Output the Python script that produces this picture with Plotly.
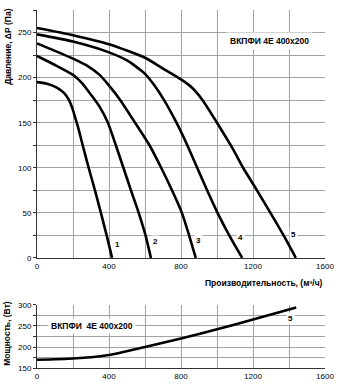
import plotly.graph_objects as go

# ---- data: pressure curves (Q m3/h, dP Pa) ----
Q1 = [0, 60, 110, 150, 178, 198, 213, 228, 250, 287, 322, 355, 387, 417]
P1 = [195, 193, 189, 183, 175, 165, 155, 145, 128, 100, 75, 50, 25, 0]

Q2 = [0, 100, 200, 250, 300, 350, 394, 438, 480, 522, 565, 603, 633]
P2 = [224, 214, 203, 194, 181, 167, 150, 125, 100, 75, 50, 25, 0]

Q3 = [0, 120, 200, 280, 348, 405, 463, 545, 625, 690, 750, 805, 845, 882]
P3 = [238, 228, 221, 213, 203, 190, 175, 150, 125, 100, 75, 50, 25, 0]

Q4 = [0, 200, 400, 500, 596, 650, 706, 775, 835, 890, 945, 1003, 1068, 1140]
P4 = [248, 240, 228, 219, 205, 192, 175, 150, 125, 100, 75, 50, 25, 0]

Q5 = [0, 200, 400, 600, 700, 800, 860, 920, 1000, 1085, 1145, 1222, 1297, 1370, 1438]
P5 = [255, 247, 237, 222, 210, 198, 189, 175, 150, 122, 100, 75, 50, 25, 0]

# ---- power curve ----
QN = [0, 200, 400, 600, 800, 1000, 1200, 1440]
N = [169.5, 172.5, 181, 200, 220, 242, 265.6, 294]

curve_labels = ["1", "2", "3", "4", "5"]
label_x = [449, 657, 896, 1133, 1427]
label_y = [15, 18, 19, 23, 26]

x_ticks = [0, 200, 400, 600, 800, 1000, 1200, 1400, 1600]
x_text = ["0", "", "400", "", "800", "", "1200", "", "1600"]
p_ticks = [0, 25, 50, 75, 100, 125, 150, 175, 200, 225, 250, 275]
p_text = ["0", "", "50", "", "100", "", "150", "", "200", "", "250", ""]
n_ticks = [150, 175, 200, 225, 250, 275, 300]
n_text = ["150", "", "200", "", "250", "", "300"]

title_top = "ВКПФИ 4Е 400х200"
title_bottom = "ВКПФИ  4Е 400х200"

FONT = "Liberation Sans, Arial, sans-serif"
GRID = "#a3a3a3"

fig = go.Figure()
for q, p in [(Q1, P1), (Q2, P2), (Q3, P3), (Q4, P4), (Q5, P5)]:
    fig.add_trace(go.Scatter(x=q, y=p, mode="lines", line=dict(color="black", width=2.6, shape="spline", smoothing=0.6),
                             xaxis="x", yaxis="y", showlegend=False, hoverinfo="skip"))
fig.add_trace(go.Scatter(x=QN, y=N, mode="lines", line=dict(color="black", width=2.6, shape="spline", smoothing=0.6),
                         xaxis="x2", yaxis="y2", showlegend=False, hoverinfo="skip"))

axis_common = dict(showgrid=True, gridcolor=GRID, gridwidth=1, zeroline=False,
                   showline=True, linecolor="#333", linewidth=1,
                   tickfont=dict(family=FONT, size=8, color="black"), tickmode="array")

fig.update_layout(
    width=340, height=387,
    margin=dict(l=37, r=13, t=6, b=19),
    paper_bgcolor="white", plot_bgcolor="white",
    xaxis=dict(domain=[0, 1], range=[0, 1600], tickvals=x_ticks, ticktext=x_text, anchor="y",
               ticks="", **axis_common),
    yaxis=dict(domain=[0.3075, 1], range=[0, 275], tickvals=p_ticks, ticktext=p_text, anchor="x",
               ticks="outside", ticklen=3, tickcolor="#333", **axis_common),
    xaxis2=dict(domain=[0, 1], range=[0, 1600], tickvals=x_ticks, ticktext=x_text, anchor="y2",
                ticks="", **axis_common),
    yaxis2=dict(domain=[0, 0.176], range=[150, 300], tickvals=n_ticks, ticktext=n_text, anchor="x2",
                ticks="outside", ticklen=3, tickcolor="#333", **axis_common),
)

ann = []
for t, lx, ly in zip(curve_labels, label_x, label_y):
    ann.append(dict(x=lx, y=ly, xref="x", yref="y", text="<b>%s</b>" % t, showarrow=False,
                    font=dict(family=FONT, size=8, color="black"), bgcolor="white", borderpad=1))
ann.append(dict(x=1294, y=241, xref="x", yref="y", text="<b>%s</b>" % title_top, showarrow=False,
                font=dict(family=FONT, size=8.5, color="black"), bgcolor="white", borderpad=3))
ann.append(dict(x=1410, y=267, xref="x2", yref="y2", text="<b>5</b>", showarrow=False,
                font=dict(family=FONT, size=8, color="black"), bgcolor="white", borderpad=1))
ann.append(dict(x=306, y=250, xref="x2", yref="y2", text="<b>%s</b>" % title_bottom, showarrow=False,
                font=dict(family=FONT, size=8.5, color="black"), bgcolor="white", borderpad=2))
# axis titles
ann.append(dict(x=-0.103, y=0.898, xref="paper", yref="paper", xanchor="center", yanchor="middle",
                text="<b>Давление, ΔР (Па)</b>", textangle=-90,
                showarrow=False, font=dict(family=FONT, size=8.5, color="black")))
ann.append(dict(x=1, y=0.238, xref="paper", yref="paper", xanchor="right", yanchor="middle",
                text="<b>Производительность, (м³/ч)</b>",
                showarrow=False, font=dict(family=FONT, size=8.5, color="black")))
ann.append(dict(x=-0.103, y=0.0967, xref="paper", yref="paper", xanchor="center", yanchor="middle",
                text="<b>Мощность, (Вт)</b>", textangle=-90,
                showarrow=False, font=dict(family=FONT, size=8.5, color="black")))
fig.update_layout(annotations=ann)

fig.write_html("out.html")
